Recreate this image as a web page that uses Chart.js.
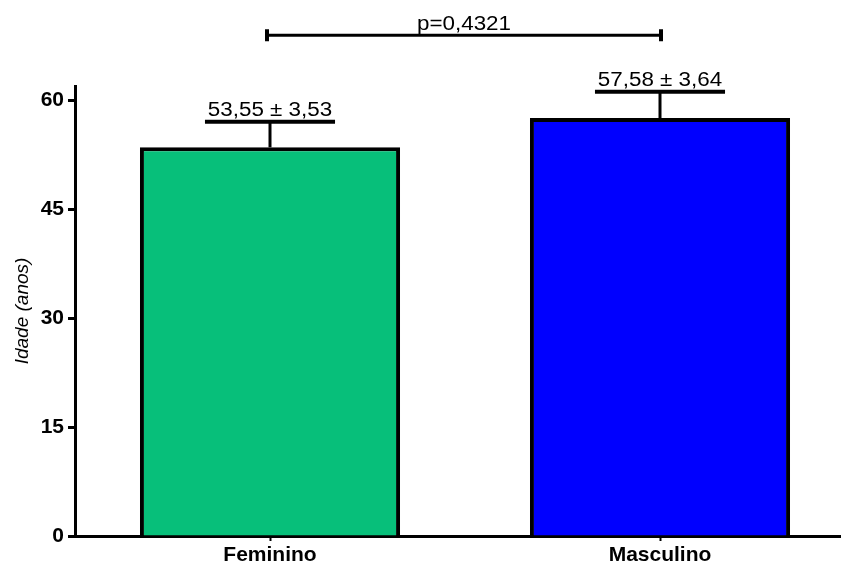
<!DOCTYPE html>
<html>
<head>
<meta charset="utf-8">
<script src="https://cdn.jsdelivr.net/npm/chart.js@4"></script>
<style>
  html, body { margin: 0; padding: 0; overflow: hidden; background: #fff; }
  #wrap { width: 870px; height: 565px; }
</style>
</head>
<body>
<div id="wrap"><canvas id="chart" width="870" height="565"></canvas></div>
<script>
const categories = ['Feminino', 'Masculino'];
const means = [53.55, 57.58];
const sds = [3.53, 3.64];
const barColors = ['#07bf7a', '#0000ff'];
const yTicks = [0, 15, 30, 45, 60];
const yMax = 62;
const pLabel = 'p=0,4321';
const bracketLevel = 69;

const fmt = v => v.toFixed(2).replace('.', ',');

// text drawn a bit wider, like the original export
function wideText(ctx, txt, x, y) {
  ctx.save();
  ctx.translate(x, y);
  ctx.scale(1.12, 1);
  ctx.fillText(txt, 0, 0);
  ctx.restore();
}

const annotations = {
  id: 'annotations',
  afterDatasetsDraw(chart) {
    const ctx = chart.ctx;
    const xs = chart.scales.x, ys = chart.scales.y;
    const meta = chart.getDatasetMeta(0);
    ctx.save();
    ctx.strokeStyle = '#000';
    ctx.fillStyle = '#000';
    ctx.lineCap = 'butt';
    ctx.font = '20px "Liberation Sans", Arial, sans-serif';
    ctx.textAlign = 'center';
    ctx.textBaseline = 'alphabetic';

    means.forEach((m, i) => {
      const x = xs.getPixelForValue(i);
      const yTop = ys.getPixelForValue(m);
      const yErr = ys.getPixelForValue(m + sds[i]);
      const half = meta.data[i].width / 4;
      ctx.lineWidth = 3;
      ctx.beginPath();
      ctx.moveTo(x, yTop);
      ctx.lineTo(x, yErr);
      ctx.stroke();
      ctx.lineWidth = 4;
      ctx.beginPath();
      ctx.moveTo(x - half, yErr);
      ctx.lineTo(x + half, yErr);
      ctx.stroke();
      wideText(ctx, fmt(m) + ' \u00b1 ' + fmt(sds[i]), x, yErr - 6);
    });

    // significance bracket
    const x0 = xs.getPixelForValue(0) - 3;
    const x1 = xs.getPixelForValue(1) + 1;
    const yb = ys.getPixelForValue(bracketLevel);
    ctx.lineWidth = 3;
    ctx.beginPath();
    ctx.moveTo(x0, yb);
    ctx.lineTo(x1, yb);
    ctx.stroke();
    ctx.lineWidth = 4;
    ctx.beginPath();
    ctx.moveTo(x0, yb - 6);
    ctx.lineTo(x0, yb + 6);
    ctx.moveTo(x1, yb - 6);
    ctx.lineTo(x1, yb + 6);
    ctx.stroke();
    wideText(ctx, pLabel, (x0 + x1) / 2, yb - 5);
    ctx.restore();
  }
};

new Chart(document.getElementById('chart'), {
  type: 'bar',
  data: {
    labels: categories,
    datasets: [{
      data: means,
      backgroundColor: barColors,
      borderColor: '#000',
      borderWidth: 4,
      categoryPercentage: 0.667,
      barPercentage: 1
    }]
  },
  options: {
    responsive: false,
    animation: false,
    layout: { padding: { top: 86, right: 15, left: 11, bottom: 0 } },
    plugins: { legend: { display: false }, tooltip: { enabled: false } },
    scales: {
      x: {
        afterFit: s => { s.height = 29; },
        grid: { drawOnChartArea: false, offset: false, tickLength: 5, tickWidth: 2, color: '#000' },
        border: { width: 3, color: '#000' },
        ticks: {
          color: '#000',
          padding: 2,
          font: { family: '"Liberation Sans", Arial, sans-serif', size: 21, weight: 'bold' }
        }
      },
      y: {
        min: 0,
        max: yMax,
        afterFit: s => { s.width = 64; },
        afterBuildTicks: s => { s.ticks = yTicks.map(v => ({ value: v })); },
        grid: { drawOnChartArea: false, tickLength: 7, tickWidth: 3, color: '#000' },
        border: { width: 3, color: '#000' },
        ticks: {
          color: '#000',
          padding: 4,
          font: { family: '"Liberation Sans", Arial, sans-serif', size: 21, weight: 'bold' }
        },
        title: {
          display: true,
          text: 'Idade (anos)',
          color: '#000',
          padding: { top: 0, bottom: 0 },
          font: { family: '"Liberation Sans", Arial, sans-serif', size: 19, style: 'italic' }
        }
      }
    }
  },
  plugins: [annotations]
});
</script>
</body>
</html>
